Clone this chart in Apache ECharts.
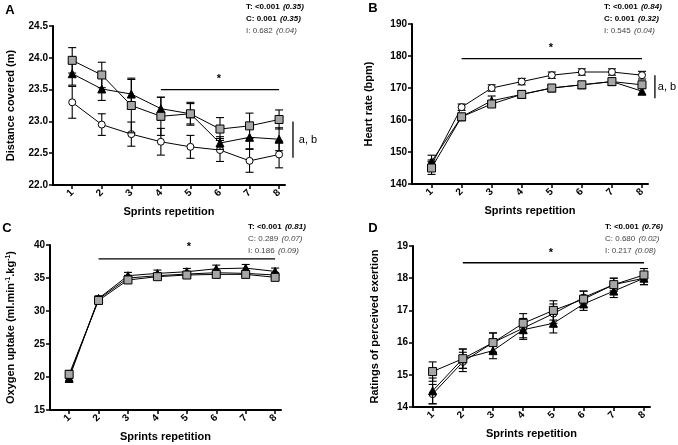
<!DOCTYPE html>
<html lang="en">
<head>
    <meta charset="UTF-8">
    <title>Sprints repetition</title>
    <style>
        body { margin: 0; background: #fff; }
        #chart { width: 678px; height: 445px; }
    </style>
</head>
<body>
<div id="chart"></div>
<script src="https://cdn.jsdelivr.net/npm/echarts@6/dist/echarts.min.js"></script>
<script>
    // sprint numbers on the x axis
    const sprints = [1, 2, 3, 4, 5, 6, 7, 8];

    // A - distance covered (m)
    const distSquare = [23.96, 23.73, 23.25, 23.08, 23.12, 22.88, 22.93, 23.03];
    const distSquareSd = [0.2, 0.2, 0.43, 0.3, 0.18, 0.18, 0.2, 0.15];
    const distTriangle = [23.75, 23.51, 23.43, 23.2, 23.12, 22.66, 22.75, 22.72];
    const distTriangleSd = [0.18, 0.18, 0.23, 0.18, 0.16, 0.1, 0.18, 0.18];
    const distCircle = [23.3, 22.95, 22.8, 22.68, 22.6, 22.55, 22.38, 22.48];
    const distCircleSd = [0.25, 0.17, 0.19, 0.21, 0.18, 0.18, 0.18, 0.21];

    // B - heart rate (bpm)
    const hrSquare = [145, 161, 165, 168, 170, 171, 172, 171];
    const hrSquareSd = [2, 1, 1, 1, 1, 1, 1, 1];
    const hrTriangle = [147, 161, 166, 168, 170, 171, 172, 169];
    const hrTriangleSd = [2, 1, 1.5, 1, 1, 1, 1, 1];
    const hrCircle = [146, 164, 170, 172, 174, 175, 175, 174];
    const hrCircleSd = [1.5, 1, 1, 1, 1, 1, 1, 1.2];

    // C - oxygen uptake
    const vo2Square = [20.4, 31.6, 34.7, 35.2, 35.45, 35.55, 35.55, 35.1];
    const vo2SquareSd = [0.6, 0.4, 0.4, 0.4, 0.4, 0.4, 0.4, 0.4];
    const vo2Triangle = [19.8, 31.9, 35.35, 35.7, 35.95, 36.4, 36.5, 36.0];
    const vo2TriangleSd = [0.6, 0.4, 0.5, 0.5, 0.5, 0.55, 0.55, 0.5];
    const vo2Circle = [20.1, 31.8, 35.0, 35.35, 35.6, 35.8, 35.7, 35.45];
    const vo2CircleSd = [0.6, 0.4, 0.4, 0.4, 0.4, 0.4, 0.4, 0.4];

    // D - ratings of perceived exertion
    const rpeSquare = [15.1, 15.5, 16.0, 16.6, 17.0, 17.35, 17.8, 18.1];
    const rpeSquareSd = [0.3, 0.3, 0.3, 0.3, 0.3, 0.25, 0.2, 0.2];
    const rpeTriangle = [14.5, 15.5, 15.75, 16.4, 16.6, 17.2, 17.6, 18.0];
    const rpeTriangleSd = [0.4, 0.3, 0.25, 0.3, 0.3, 0.2, 0.2, 0.2];
    const rpeCircle = [14.4, 15.4, 16.0, 16.45, 16.9, 17.4, 17.8, 18.0];
    const rpeCircleSd = [0.3, 0.3, 0.3, 0.3, 0.3, 0.2, 0.2, 0.2];

    // p values (effect sizes) printed top right of each panel
    const statsA = [['T: <0.001', '(0.35)', true], ['C: 0.001', '(0.35)', true], ['I: 0.682', '(0.04)', false]];
    const statsB = [['T: <0.001', '(0.84)', true], ['C: 0.001', '(0.32)', true], ['I: 0.545', '(0.04)', false]];
    const statsC = [['T: <0.001', '(0.81)', true], ['C: 0.289', '(0.07)', false], ['I: 0.186', '(0.09)', false]];
    const statsD = [['T: <0.001', '(0.76)', true], ['C: 0.680', '(0.02)', false], ['I: 0.217', '(0.08)', false]];

    // significance bars: [from sprint, to sprint, height]
    const sigA = [4, 8, 23.5];
    const sigB = [2, 8, 179.2];
    const sigC = [2, 8, 37.9];
    const sigD = [2, 8, 18.48];
    // "a, b" group bars: [x, low, high]
    const groupA = [8.47, 22.43, 23.0];
    const groupB = [8.43, 166.8, 174];

    const FONT = '"Liberation Sans", Arial, sans-serif';

    const panels = [
        { grid: { left: 53, top: 26, width: 232, height: 159 }, y: [22, 24.5, 0.5], dec: 1,
          name: 'Distance covered (m)', gap: 37,
          sq: [distSquare, distSquareSd], tr: [distTriangle, distTriangleSd], ci: [distCircle, distCircleSd] },
        { grid: { left: 412, top: 24, width: 236, height: 160 }, y: [140, 190, 10], dec: 0,
          name: 'Heart rate (bpm)', gap: 38,
          sq: [hrSquare, hrSquareSd], tr: [hrTriangle, hrTriangleSd], ci: [hrCircle, hrCircleSd] },
        { grid: { left: 50, top: 245, width: 231, height: 165 }, y: [15, 40, 5], dec: 0,
          name: 'Oxygen uptake (ml.min{sup|-1}.kg{sup|-1})', gap: 33,
          sq: [vo2Square, vo2SquareSd], tr: [vo2Triangle, vo2TriangleSd], ci: [vo2Circle, vo2CircleSd] },
        { grid: { left: 413, top: 246, width: 237, height: 161 }, y: [14, 19, 1], dec: 0,
          name: 'Ratings of perceived exertion', gap: 33,
          sq: [rpeSquare, rpeSquareSd], tr: [rpeTriangle, rpeTriangleSd], ci: [rpeCircle, rpeCircleSd] }
    ];

    const chart = echarts.init(document.getElementById('chart'));

    const grids = [], xAxes = [], yAxes = [], series = [];

    panels.forEach((p, k) => {
        grids.push(p.grid);
        xAxes.push({
            type: 'value', gridIndex: k, min: 0.35, max: 8.2,
            name: 'Sprints repetition', nameLocation: 'middle', nameGap: 21,
            nameTextStyle: { fontFamily: FONT, fontWeight: 'bold', fontSize: 11, color: '#000' },
            axisLine: { lineStyle: { color: '#000', width: 2 } },
            axisTick: { customValues: sprints, length: 4, lineStyle: { color: '#000', width: 1.5 } },
            axisLabel: { customValues: sprints, rotate: 45, margin: 6, fontFamily: FONT,
                fontWeight: 'bold', fontSize: 10, color: '#000' },
            splitLine: { show: false }
        });
        yAxes.push({
            type: 'value', gridIndex: k, min: p.y[0], max: p.y[1], interval: p.y[2],
            name: p.name, nameLocation: 'middle', nameGap: p.gap,
            nameTextStyle: { fontFamily: FONT, fontWeight: 'bold', fontSize: 11, color: '#000',
                rich: { sup: { fontFamily: FONT, fontWeight: 'bold', fontSize: 7, color: '#000',
                    verticalAlign: 'top', lineHeight: 12 } } },
            axisLine: { show: true, lineStyle: { color: '#000', width: 2 } },
            axisTick: { show: true, length: 4, lineStyle: { color: '#000', width: 1.5 } },
            axisLabel: { margin: 5, fontFamily: FONT, fontWeight: 'bold', fontSize: 10, color: '#000',
                formatter: v => v.toFixed(p.dec) },
            splitLine: { show: false }
        });

        const groups = [
            { d: p.ci, symbol: 'circle', size: 7, fill: '#fff' },
            { d: p.tr, symbol: 'triangle', size: 8, fill: '#000' },
            { d: p.sq, symbol: 'rect', size: 8, fill: '#a6a6a6' }
        ];
        groups.forEach((g, gi) => {
            series.push({
                type: 'custom', xAxisIndex: k, yAxisIndex: k, z: 2 + gi * 2,
                encode: { x: 0, y: 1 },
                data: sprints.map((s, i) => [s, g.d[0][i], g.d[1][i]]),
                renderItem: (params, api) => {
                    const x = api.value(0), y = api.value(1), e = api.value(2);
                    const hi = api.coord([x, y + e]);
                    const lo = api.coord([x, y - e]);
                    const w = 4;
                    const st = { stroke: '#000', lineWidth: 1.1 };
                    return {
                        type: 'group', children: [
                            { type: 'line', shape: { x1: hi[0], y1: hi[1], x2: lo[0], y2: lo[1] }, style: st },
                            { type: 'line', shape: { x1: hi[0] - w, y1: hi[1], x2: hi[0] + w, y2: hi[1] }, style: st },
                            { type: 'line', shape: { x1: lo[0] - w, y1: lo[1], x2: lo[0] + w, y2: lo[1] }, style: st }
                        ]
                    };
                }
            });
            series.push({
                type: 'line', xAxisIndex: k, yAxisIndex: k, z: 3 + gi * 2,
                data: sprints.map((s, i) => [s, g.d[0][i]]),
                symbol: g.symbol, symbolSize: g.size, showAllSymbol: true,
                lineStyle: { color: '#000', width: 1 },
                itemStyle: { color: g.fill, borderColor: '#000', borderWidth: 1 },
                animation: false
            });
        });
    });

    // significance bars (horizontal) and "a, b" bars (vertical), drawn through the axes
    const barLine = (k, p1, p2) => ({
        type: 'custom', xAxisIndex: k, yAxisIndex: k, clip: false, z: 10,
        encode: { x: 0, y: 1 },
        data: [[p1[0], p1[1], p2[0], p2[1]]],
        renderItem: (params, api) => {
            const a = api.coord([api.value(0), api.value(1)]);
            const b = api.coord([api.value(2), api.value(3)]);
            return { type: 'line', shape: { x1: a[0], y1: a[1], x2: b[0], y2: b[1] },
                style: { stroke: '#000', lineWidth: 1.3 } };
        }
    });
    [sigA, sigB, sigC, sigD].forEach((s, k) => series.push(barLine(k, [s[0], s[2]], [s[1], s[2]])));
    [groupA, groupB].forEach((g, k) => series.push(barLine(k, [g[0], g[1]], [g[0], g[2]])));

    function statsText(rows, x, y) {
        const lines = rows.map(r => r[2]
            ? '{b|' + r[0] + '} {bi|' + r[1] + '}'
            : '{n|' + r[0] + '} {ni|' + r[1] + '}');
        return {
            type: 'text', left: x, top: y,
            style: {
                text: lines.join('\n'),
                rich: {
                    b: { fontFamily: FONT, fontWeight: 'bold', fontSize: 8, fill: '#000', lineHeight: 10 },
                    bi: { fontFamily: FONT, fontWeight: 'bold', fontStyle: 'italic', fontSize: 8, fill: '#000', lineHeight: 10 },
                    n: { fontFamily: FONT, fontSize: 8, fill: '#444', lineHeight: 10 },
                    ni: { fontFamily: FONT, fontStyle: 'italic', fontSize: 8, fill: '#444', lineHeight: 10 }
                }
            }
        };
    }

    function label(text, x, y, size, extra) {
        return {
            type: 'text', x: x, y: y,
            style: Object.assign({ text: text, fontFamily: FONT, fontWeight: 'bold', fontSize: size,
                fill: '#000', align: 'center', verticalAlign: 'middle' }, extra || {})
        };
    }

    const graphics = [
        label('A', 10, 10, 13), label('B', 373, 8, 13), label('C', 7, 228, 13), label('D', 373, 228, 13),
        statsText(statsA, 246, 1), statsText(statsB, 604, 1), statsText(statsC, 248, 221), statsText(statsD, 605, 221),
        label('*', 219, 79, 11), label('*', 551, 48, 11), label('*', 189, 247, 11), label('*', 551, 253, 11),
        label('a, b', 308, 140, 11, { fontWeight: 'normal' }), label('a, b', 667, 87, 11, { fontWeight: 'normal' })
    ];

    chart.setOption({
        animation: false,
        grid: grids,
        xAxis: xAxes,
        yAxis: yAxes,
        series: series,
        graphic: graphics
    });
</script>
</body>
</html>
